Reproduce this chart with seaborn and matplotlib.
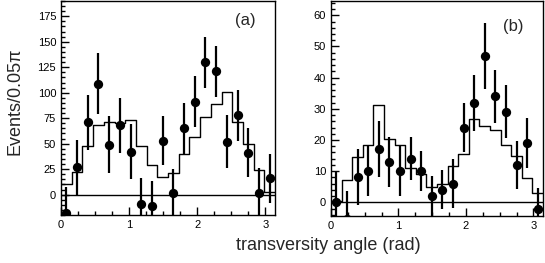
import numpy as np
import pandas as pd
import matplotlib
matplotlib.use("Agg")
import matplotlib.pyplot as plt
from matplotlib.ticker import MultipleLocator
import seaborn as sns

# === Данные ===
# бины по 0.05*pi от 0 до pi
N_BINS = 20
EDGES = np.linspace(0, np.pi, N_BINS + 1)
CENTERS = 0.5 * (EDGES[:-1] + EDGES[1:])

# панель (a)
a_mc = [10, 22, 48, 68, 71, 70, 73, 48, 29, 17, 21, 40, 57, 76, 89, 101, 71, 50, 24, 3]
a_data = [-18, 27, 71, 109, 49, 68, 42, -9, -11, 53, 2, 65, 91, 130, 121, 52, 78, 41, 2, 16]
a_err = [25, 27, 27, 30, 28, 27, 27, 25, 24, 24, 23, 25, 25, 25, 25, 26, 25, 24, 24, 24]

# панель (b)
b_mc = [0.5, 7, 14.5, 18.4, 31.2, 20.3, 18.4, 11, 9.2, 5, 5.9, 11.8, 15.6, 26.8, 24.6, 23.1, 18.5, 14.8, 7.9, 3]
b_data = [0, -5.5, 8, 10, 17, 13, 10, 14, 10, 2, 4, 6, 24, 32, 47, 34, 29, 12, 19, -2]
b_err = [10, 9, 9, 8, 9, 8, 8, 7, 6.5, 6.5, 6.3, 7.8, 8, 9, 10.5, 8.5, 8.5, 7.6, 8, 6.5]

sns.set_style("ticks")
plt.rcParams['font.family'] = ['Liberation Sans', 'DejaVu Sans']

fig = plt.figure(figsize=(5.45, 2.63), dpi=100)
ax_a = fig.add_axes([61 / 545, 1 - 215 / 263, 214 / 545, 214 / 263])
ax_b = fig.add_axes([331 / 545, 1 - 216 / 263, 212 / 545, 215 / 263])


def draw_panel(ax, mc, data, err, ylim, major, minor, tag, tag_y):
    df = pd.DataFrame({"x": CENTERS, "mc": mc, "y": data, "err": err})
    sns.histplot(data=df, x="x", weights="mc", bins=N_BINS, binrange=(0, np.pi),
                 element="step", fill=False, color="black", linewidth=1, ax=ax)
    ax.axhline(0, color="black", lw=1)
    ax.errorbar(df["x"], df["y"], yerr=df["err"], fmt="none",
                ecolor="black", elinewidth=1.6, capsize=0)
    sns.scatterplot(data=df, x="x", y="y", color="black", s=45,
                    edgecolor="black", linewidth=0, ax=ax, zorder=5)

    ax.set_xlim(0, np.pi)
    ax.set_ylim(*ylim)
    ax.xaxis.set_major_locator(MultipleLocator(1))
    ax.xaxis.set_minor_locator(MultipleLocator(0.25))
    ax.yaxis.set_major_locator(MultipleLocator(major))
    ax.yaxis.set_minor_locator(MultipleLocator(minor))
    ax.tick_params(which="both", direction="in", labelsize=8, colors="black")
    ax.tick_params(which="major", length=6, width=1)
    ax.tick_params(which="minor", length=3, width=1)
    for sp in ax.spines.values():
        sp.set_visible(True)
        sp.set_linewidth(1)
        sp.set_color("black")
    ax.set_xlabel("")
    ax.set_ylabel("")
    ax.text(0.86, tag_y, tag, transform=ax.transAxes, fontsize=12,
            ha="center", va="center")


draw_panel(ax_a, a_mc, a_data, a_err, (-20, 190), 25, 5, "(a)", 0.91)
draw_panel(ax_b, b_mc, b_data, b_err, (-4.4, 64.6), 10, 2, "(b)", 0.88)

ax_a.set_ylabel("Events/0.05π", fontsize=13)
ax_a.yaxis.set_label_coords(-0.175, 0.53)
fig.text(328 / 545, 1 - 245 / 263, "transversity angle (rad)", fontsize=13,
         ha="center", va="center")

fig.savefig("out.png", dpi=100)
